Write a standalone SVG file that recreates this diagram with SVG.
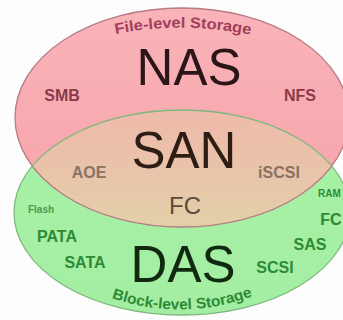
<svg xmlns="http://www.w3.org/2000/svg" width="343" height="320" viewBox="0 0 343 320">
  <defs>
    <linearGradient id="gNas" x1="0" y1="0" x2="0" y2="1">
      <stop offset="0" stop-color="#f9b4b9"/>
      <stop offset="1" stop-color="#f7a2a9"/>
    </linearGradient>
    <linearGradient id="gDas" x1="0" y1="0" x2="0" y2="1">
      <stop offset="0" stop-color="#a6f2a6"/>
      <stop offset="1" stop-color="#a4eea4"/>
    </linearGradient>
    <linearGradient id="gSan" x1="0" y1="110" x2="0" y2="227" gradientUnits="userSpaceOnUse">
      <stop offset="0" stop-color="#efbaab"/>
      <stop offset="0.5" stop-color="#e9c3aa"/>
      <stop offset="1" stop-color="#e2d0a8"/>
    </linearGradient>
    <clipPath id="clipNas">
      <ellipse cx="182" cy="117.5" rx="167" ry="109.5"/>
    </clipPath>
    <path id="arcTop" d="M 110 35 Q 182 20 256 36"/>
    <path id="arcBottom" d="M 106 296 Q 182 324 258 294"/>
    <style>
      text { font-family: "Liberation Sans", Arial, sans-serif; text-anchor: middle; }
      .big { font-size: 51px; }
      .lbl { font-size: 16px; font-weight: bold; }
      .tiny { font-size: 10px; font-weight: bold; }
      .arc { font-size: 15px; font-weight: bold; }
      .nas { fill: #8c3a4a; }
      .san { fill: #8a7262; }
      .das { fill: #2f8a36; }
      .edge { fill: none; stroke-width: 1.3; }
    </style>
  </defs>

  <rect width="343" height="320" fill="#fdfdfd"/>

  <!-- NAS region -->
  <g id="nas">
    <ellipse cx="182" cy="117.5" rx="167" ry="109.5" fill="url(#gNas)"/>
  </g>

  <!-- DAS region -->
  <g id="das">
    <ellipse cx="182" cy="212.5" rx="168" ry="102.5" fill="url(#gDas)"/>
  </g>

  <!-- SAN: overlap of the two -->
  <g id="san">
    <ellipse cx="182" cy="212.5" rx="168" ry="102.5" fill="url(#gSan)" clip-path="url(#clipNas)"/>
  </g>

  <!-- outlines -->
  <g id="outlines">
    <ellipse class="edge" cx="182" cy="117.5" rx="167" ry="109.5" stroke="#b87a84"/>
    <ellipse class="edge" cx="182" cy="212.5" rx="168" ry="102.5" stroke="#7cb87c"/>
  </g>

  <!-- labels -->
  <g id="nas-labels">
    <text class="arc" fill="#a23e5a" textLength="136" lengthAdjust="spacingAndGlyphs"><textPath href="#arcTop" startOffset="50%">File-level Storage</textPath></text>
    <text class="big" x="189" y="85" fill="#2a1517">NAS</text>
    <text class="lbl nas" x="62" y="101">SMB</text>
    <text class="lbl nas" x="300" y="101">NFS</text>
  </g>

  <g id="san-labels">
    <text class="big" x="184" y="168" font-size="50" fill="#2e1d14">SAN</text>
    <text class="lbl san" x="89" y="178">AOE</text>
    <text class="lbl san" x="279" y="178">iSCSI</text>
    <text x="185" y="214" font-size="24" fill="#5c4b3a">FC</text>
  </g>

  <g id="das-labels">
    <text class="big" x="183" y="282" fill="#10290f">DAS</text>
    <text class="tiny" x="41" y="213" fill="#4a9c4e">Flash</text>
    <text class="lbl das" x="57" y="242">PATA</text>
    <text class="lbl das" x="85" y="268">SATA</text>
    <text class="lbl das" x="275" y="273" font-size="15">SCSI</text>
    <text class="lbl das" x="310" y="250">SAS</text>
    <text class="lbl das" x="331" y="225">FC</text>
    <text class="tiny das" x="318" y="197" style="text-anchor:start">RAM</text>
    <text class="arc das" textLength="144" lengthAdjust="spacingAndGlyphs"><textPath href="#arcBottom" startOffset="50%">Block-level Storage</textPath></text>
  </g>
</svg>
